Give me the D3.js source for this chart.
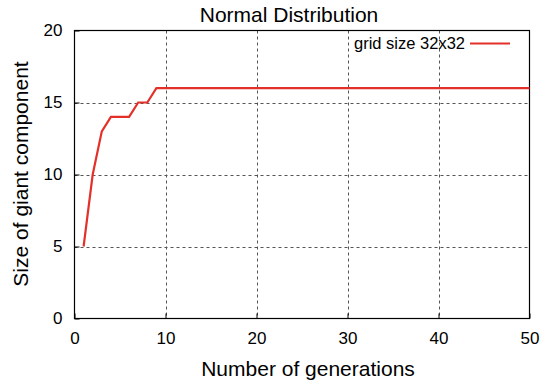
<!DOCTYPE html>
<html>
<head>
<meta charset="utf-8">
<script src="https://cdn.jsdelivr.net/npm/d3@7"></script>
<style>
  body { margin: 0; background: #fff; }
  text { font-family: "Liberation Sans", Arial, sans-serif; fill: #000; }
</style>
</head>
<body>
<svg id="chart" width="549" height="384"></svg>
<script>
// Size of the giant component per generation (grid size 32x32)
const generations = d3.range(1, 51);
const giantSize = [5, 10, 13, 14, 14, 14, 15, 15, 16, 16,
                   16, 16, 16, 16, 16, 16, 16, 16, 16, 16,
                   16, 16, 16, 16, 16, 16, 16, 16, 16, 16,
                   16, 16, 16, 16, 16, 16, 16, 16, 16, 16,
                   16, 16, 16, 16, 16, 16, 16, 16, 16, 16];
const xTicks = [0, 10, 20, 30, 40, 50];
const yTicks = [0, 5, 10, 15, 20];
const seriesName = "grid size 32x32";

const svg = d3.select("#chart");
const m = { left: 74.5, right: 529.5, top: 30.5, bottom: 318.5 };

const x = d3.scaleLinear().domain([0, 50]).range([m.left, m.right]);
const y = d3.scaleLinear().domain([0, 20]).range([m.bottom, m.top]);

// dashed grid
const grid = svg.append("g").attr("stroke", "#555").attr("stroke-width", 1)
  .attr("stroke-dasharray", "3,3");
xTicks.slice(1, -1).forEach(t => grid.append("line")
  .attr("x1", Math.round(x(t)) + 0.5).attr("x2", Math.round(x(t)) + 0.5)
  .attr("y1", m.top).attr("y2", m.bottom));
yTicks.slice(1, -1).forEach(t => grid.append("line")
  .attr("x1", m.left).attr("x2", m.right)
  .attr("y1", Math.round(y(t)) + 0.5).attr("y2", Math.round(y(t)) + 0.5));

// axes with inward ticks
const xAxis = svg.append("g").attr("transform", `translate(0,${m.bottom})`)
  .call(d3.axisBottom(x).tickValues(xTicks).tickSize(-5).tickPadding(13));
const yAxis = svg.append("g").attr("transform", `translate(${m.left},0)`)
  .call(d3.axisLeft(y).tickValues(yTicks).tickSize(-5).tickPadding(12));
[xAxis, yAxis].forEach(a => {
  a.select(".domain").remove();
  a.selectAll("line").attr("stroke", "#000");
  a.selectAll("text").style("font-size", "17px").style("font-family", "Liberation Sans, Arial, sans-serif");
});

// border
svg.append("rect").attr("x", m.left).attr("y", m.top)
  .attr("width", m.right - m.left).attr("height", m.bottom - m.top)
  .attr("fill", "none").attr("stroke", "#000").attr("stroke-width", 1.2);

// series line
const line = d3.line().x((d, i) => x(generations[i])).y(d => y(d));
svg.append("path").datum(giantSize)
  .attr("d", line).attr("fill", "none")
  .attr("stroke", "#e3312a").attr("stroke-width", 2.2);

// legend
svg.append("text").attr("x", 465).attr("y", 49).attr("text-anchor", "end")
  .style("font-size", "16.5px").text(seriesName);
svg.append("line").attr("x1", 470).attr("x2", 510).attr("y1", 43.5).attr("y2", 43.5)
  .attr("stroke", "#e3312a").attr("stroke-width", 2.2);

// titles
svg.append("text").attr("x", 289).attr("y", 22).attr("text-anchor", "middle")
  .style("font-size", "21px").text("Normal Distribution");
svg.append("text").attr("x", 308).attr("y", 376).attr("text-anchor", "middle")
  .style("font-size", "21px").text("Number of generations");
svg.append("text").attr("transform", "translate(28,174) rotate(-90)")
  .attr("text-anchor", "middle").style("font-size", "21px")
  .text("Size of giant component");
</script>
</body>
</html>
